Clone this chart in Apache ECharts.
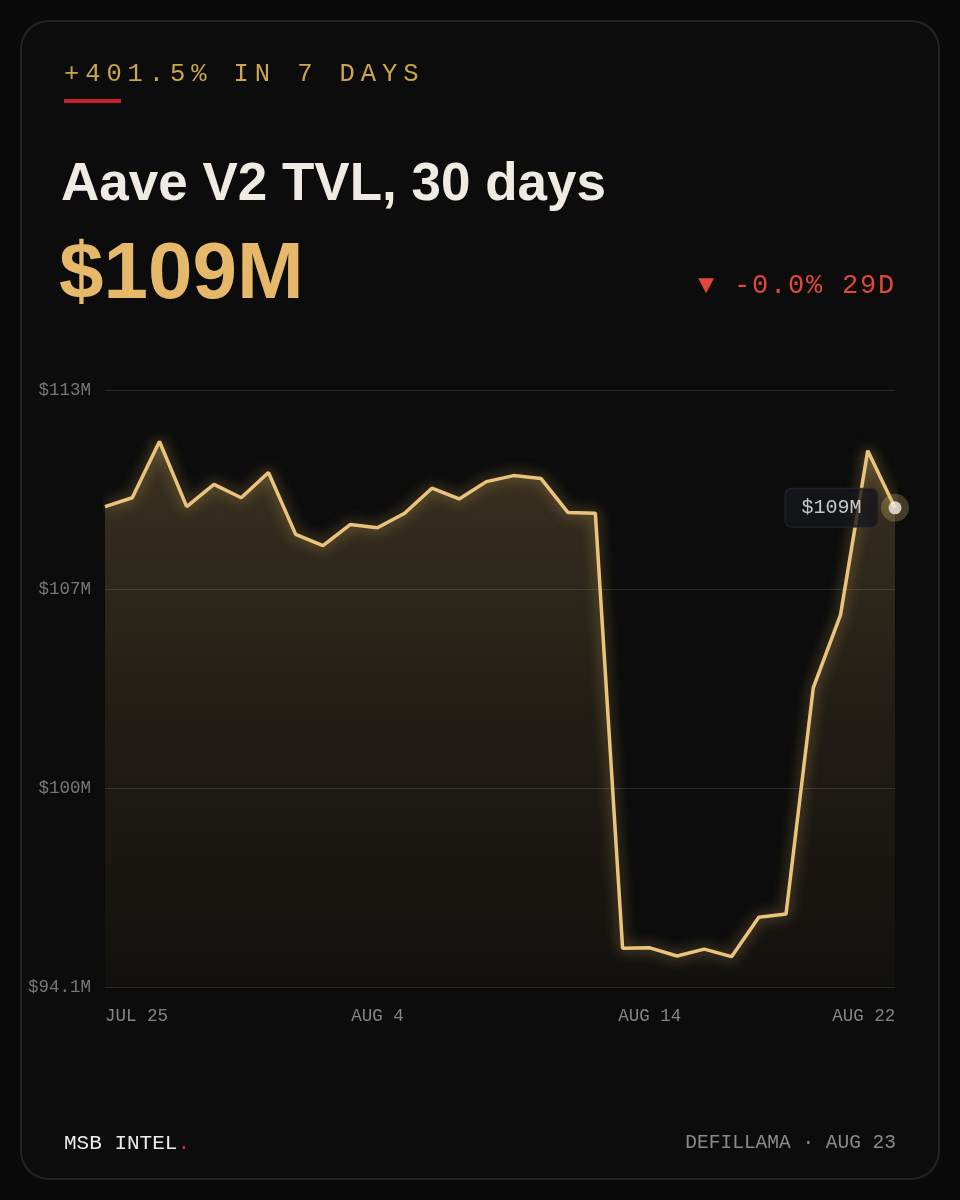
<!DOCTYPE html>
<html>
<head>
<meta charset="utf-8">
<script src="https://cdn.jsdelivr.net/npm/echarts@6/dist/echarts.min.js"></script>
<style>
  html, body { margin: 0; padding: 0; background: #0a0a0a; }
  #chart { width: 960px; height: 1200px; }
</style>
</head>
<body>
<div id="chart"></div>
<script>
// ---- data ----
const categories = ['JUL 25','JUL 26','JUL 27','JUL 28','JUL 29','JUL 30','JUL 31',
  'AUG 1','AUG 2','AUG 3','AUG 4','AUG 5','AUG 6','AUG 7','AUG 8','AUG 9','AUG 10',
  'AUG 11','AUG 12','AUG 13','AUG 14','AUG 15','AUG 16','AUG 17','AUG 18','AUG 19',
  'AUG 20','AUG 21','AUG 22','AUG 23'];
const tvlMillions = [109.31,109.59,111.37,109.31,110.01,109.59,110.39,108.43,108.07,108.74,
  108.64,109.10,109.89,109.55,110.10,110.29,110.20,109.12,109.10,95.33,
  95.34,95.08,95.30,95.06,96.31,96.41,103.57,105.88,111.08,109.27];
const yMin = 94.1;
const yMax = 113.0;
const yInterval = 6.3;
const xLabelIndices = [0, 10, 20, 28];
const kicker = '+401.5% IN 7 DAYS';
const titleText = 'Aave V2 TVL, 30 days';
const bigValue = '$109M';
const changeText = '▼ -0.0% 29D';
const lastLabel = '$109M';
const brandText = 'MSB INTEL';
const sourceText = 'DEFILLAMA · AUG 23';

const MONO = '"Liberation Mono", "DejaVu Sans Mono", monospace';
const SANS = '"Liberation Sans", Arial, sans-serif';

function spacedText(str, x0, y, advance, font, fill) {
  const out = [];
  for (let k = 0; k < str.length; k++) {
    const ch = str[k];
    if (ch === ' ') continue;
    out.push({
      type: 'text', x: x0 + k * advance, y: y, silent: true,
      style: { text: ch, font: font, fill: fill, textAlign: 'left', textVerticalAlign: 'middle' }
    });
  }
  return out;
}

const chart = echarts.init(document.getElementById('chart'), null, { renderer: 'canvas' });
const lastIdx = tvlMillions.length - 1;

const graphics = [
  { type: 'rect', z: -10, silent: true, shape: { x: 21, y: 21, width: 918, height: 1158, r: 28 },
    style: { fill: '#0c0c0c', stroke: '#242424', lineWidth: 2 } },
  ...spacedText(kicker, 64, 74, 21.2, 'normal 25.5px ' + MONO, '#caa64c'),
  { type: 'rect', silent: true, shape: { x: 64, y: 99, width: 57, height: 4 }, style: { fill: '#c8232c' } },
  { type: 'text', x: 61, y: 185, silent: true,
    style: { text: titleText, font: 'bold 53px ' + SANS, fill: '#efebe3', textAlign: 'left', textVerticalAlign: 'middle' } },
  { type: 'text', x: 59, y: 276, silent: true,
    style: { text: bigValue, font: 'bold 80px ' + SANS, fill: '#e6b86a', textAlign: 'left', textVerticalAlign: 'middle' } },
  ...spacedText(changeText, 698, 286, 18, 'normal 27px ' + MONO, '#e0483a'),
  { type: 'text', x: 64, y: 1143, silent: true,
    style: { text: brandText, font: 'normal 21px ' + MONO, fill: '#ececec', textAlign: 'left', textVerticalAlign: 'middle' } },
  { type: 'text', x: 64 + brandText.length * 12.6, y: 1143, silent: true,
    style: { text: '.', font: 'normal 21px ' + MONO, fill: '#d0243a', textAlign: 'left', textVerticalAlign: 'middle' } },
  { type: 'text', x: 896, y: 1143, silent: true,
    style: { text: sourceText, font: 'normal 19.5px ' + MONO, fill: '#8a8a8a', textAlign: 'right', textVerticalAlign: 'middle' } }
];

const option = {
  backgroundColor: '#0a0a0a',
  animation: false,
  grid: { left: 105, right: 65, top: 390, bottom: 213, containLabel: false },
  xAxis: {
    type: 'category',
    data: categories,
    boundaryGap: false,
    axisLine: { show: false },
    axisTick: { show: false },
    splitLine: { show: false },
    axisLabel: {
      interval: (i) => xLabelIndices.indexOf(i) >= 0,
      color: '#858585',
      fontFamily: MONO,
      fontSize: 17.5,
      margin: 20,
      alignMinLabel: 'left',
      formatter: (v, i) => i === 28 ? '{r|' + v + '}' : v,
      rich: { r: { color: '#858585', fontFamily: MONO, fontSize: 17.5, padding: [0, 8, 0, 0] } }
    }
  },
  yAxis: {
    type: 'value',
    min: yMin,
    max: yMax,
    interval: yInterval,
    axisLine: { show: false },
    axisTick: { show: false },
    splitLine: { show: true, lineStyle: { color: '#272727', width: 1 } },
    axisLabel: {
      color: '#777777',
      fontFamily: MONO,
      fontSize: 17.5,
      margin: 14,
      formatter: (v) => v < 100 ? '$' + v.toFixed(1) + 'M' : '$' + Math.round(v) + 'M'
    }
  },
  series: [
    {
      type: 'line',
      data: tvlMillions,
      symbol: 'none',
      smooth: false,
      lineStyle: { color: '#eac47c', width: 3.5, shadowColor: 'rgba(235,190,105,0.65)', shadowBlur: 14 },
      areaStyle: {
        color: new echarts.graphic.LinearGradient(0, 0, 0, 1, [
          { offset: 0, color: 'rgba(232,188,108,0.30)' },
          { offset: 0.5, color: 'rgba(232,188,108,0.14)' },
          { offset: 1, color: 'rgba(232,188,108,0.04)' }
        ])
      },
      z: 2
    },
    {
      type: 'scatter',
      data: [[categories[lastIdx], tvlMillions[lastIdx]]],
      symbolSize: 28,
      itemStyle: { color: 'rgba(215,180,115,0.35)' },
      silent: true,
      z: 3
    },
    {
      type: 'scatter',
      data: [[categories[lastIdx], tvlMillions[lastIdx]]],
      symbolSize: 13,
      itemStyle: { color: '#f4efe4' },
      silent: true,
      z: 4,
      label: {
        show: true,
        position: 'left',
        distance: 11,
        formatter: () => lastLabel,
        color: '#f2f2f2',
        fontFamily: MONO,
        fontSize: 20,
        backgroundColor: '#15161a',
        borderColor: '#2a2a2e',
        borderWidth: 1,
        borderRadius: 6,
        padding: [9, 16, 9, 16]
      }
    }
  ],
  graphic: graphics
};
chart.setOption(option);
</script>
</body>
</html>
